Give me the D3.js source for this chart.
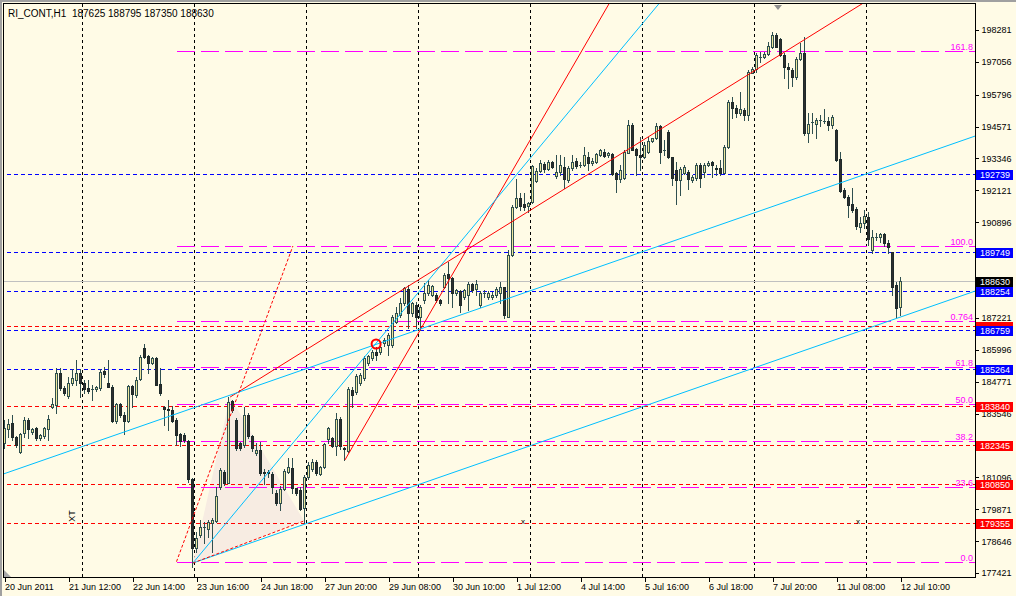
<!DOCTYPE html>
<html>
<head>
<meta charset="utf-8">
<script src="https://cdn.jsdelivr.net/npm/d3@7"></script>
<style>
body{margin:0;background:#fffbe6;}
svg{display:block;font-family:"Liberation Sans",Arial,sans-serif;}
</style>
</head>
<body>
<script>
// RI_CONT H1 candles (bar 0 = 20 Jun 2011)
var opens = [182400,182938,183168,182656,182080,182784,183296,182848,182976,182592,
182682,182938,183809,183873,185090,184540,184219,184706,184834,185090,
184731,184514,184488,184475,184514,185192,184731,184578,183271,183912,
183489,183271,184603,184258,184860,186051,185756,185500,185666,184680,
183809,183707,183681,183296,182746,182720,182489,181016,178365,178877,
179197,179108,179326,179428,180709,181311,180888,184027,183296,182400,
182336,183489,182682,182017,182145,181286,181300,181223,180480,180095,
180647,181312,181440,180672,180608,179903,181120,181402,181671,181223,
181504,182555,182593,182299,183336,182209,182117,184449,184385,184705,
184897,185474,185666,185922,185922,186243,186179,186179,187075,187331,
187779,188317,187395,187715,187267,187907,188163,188100,188100,187907,
188420,188907,188740,188164,188253,188036,188100,188522,188317,187715,
188164,188036,188036,188100,188164,188420,187267,189637,191493,191813,
191595,191518,191685,192479,192876,193133,192928,193209,192671,192838,
193030,192518,192966,193248,193094,193081,193414,193158,193222,193478,
193607,193465,193504,192774,192543,192582,193568,194631,193696,193478,
193414,193607,194029,194119,194593,193680,194349,193389,192902,192518,
192800,192838,192518,192582,193094,192838,193094,193222,192966,192966,
192800,193799,195528,195271,195079,195207,195015,196642,196770,197257,
197231,197359,197641,198090,197923,197321,196873,196745,196488,197154,
197385,194311,194759,194669,194823,194797,194797,194631,194439,193311,
192133,191877,191595,191390,190724,190877,191082,189827,190340,190340,
190429,190109,189763,188482,187625];

var highs = [183296,183322,183489,182700,182800,183400,183360,183000,183040,182780,
183040,183489,184130,185282,185282,184600,184962,185250,185602,185244,
184834,184834,184642,184620,185244,185320,185602,184642,183950,183950,
183617,184642,184642,184962,185795,186217,185795,185700,185730,185282,
183835,184065,183835,183361,182784,182784,182528,181055,179005,179454,
179390,179454,179518,180709,181440,181375,184193,184065,183360,182450,
183809,183550,182720,182400,182465,181402,181376,181312,180608,180762,
181400,181825,181825,180700,180736,181184,181700,181800,181750,181550,
182420,183042,182650,183554,183400,182260,184577,184577,185050,185100,
185750,185800,185986,186115,186170,186450,186627,187350,187651,187971,
188420,188484,187850,187843,187715,188548,188676,188500,188163,187950,
188932,189381,188804,188350,188292,188350,188612,188580,188676,188250,
188292,188250,188200,188400,188612,188420,189829,191557,192556,192006,
192006,191685,193094,192966,193286,193222,193286,193260,193478,193478,
193414,193050,193478,193350,193222,193799,193607,193350,193560,193720,
193696,193610,193543,192838,193094,193671,194824,194695,193735,194183,
193991,194183,194150,194695,194631,194055,194439,193414,193222,193030,
193094,192902,192710,193158,193158,193158,193248,193248,193094,193286,
193863,195592,195720,195400,195912,195271,196745,196873,197385,197449,
197449,197833,198218,198154,197961,197385,197001,196809,197257,197795,
198026,195079,195079,194887,195015,195233,194951,195015,194464,193606,
192197,191941,192197,191467,191108,191364,191300,190596,190468,190493,
190468,190212,189763,188610,188795];

var lows = [182208,182656,182528,182272,182020,182650,182592,182780,182528,182540,
182620,182528,183745,183553,184450,184250,184130,184640,184642,184193,
184322,184322,184065,184420,184450,184962,184578,183232,183200,183420,
182759,183232,183809,184193,184834,185666,185090,185450,184642,184258,
183105,182912,183232,182336,182297,182464,180926,177660,178237,178813,
178557,178813,178237,179390,180645,180820,180862,183617,182150,182150,
182272,182600,182100,181950,181184,180838,181120,180480,180031,179839,
180600,181248,180480,180400,179839,179327,181050,181350,181200,181184,
181450,182401,182250,181953,182200,181761,182079,183808,184300,184650,
184850,185400,185600,185602,185850,186150,185794,186100,187011,187267,
187700,186819,187300,186819,186755,187779,188100,188050,187850,187700,
188356,187779,187651,188100,187459,187950,187523,188200,188100,187650,
188036,187950,187950,188036,187779,187203,187241,189600,191450,191365,
191365,191301,191621,192454,192838,192838,192890,192966,192582,192710,
192197,192450,192902,192966,193030,193056,192902,193094,193180,193440,
193414,193420,192710,192070,192454,192543,193543,193671,192710,192902,
193350,193543,193990,194080,193158,193478,193350,192326,191595,191941,
192748,192159,192454,192518,192236,192620,193056,192646,192710,192710,
192780,193735,194887,194951,195015,194823,194823,196616,196680,197065,
197193,197321,197577,197616,197283,196424,196040,196130,196386,197129,
194247,193990,194311,194118,194592,194695,194439,194502,193260,192069,
191813,191108,191300,190621,190532,190660,190020,189699,190212,190148,
189981,189699,188098,187265,187350];

var closes = [182976,183130,182656,182336,182746,183296,182938,182950,182592,182720,
182976,183322,183912,185090,184514,184322,184706,184898,185090,184706,
184475,184424,184488,184552,185154,185051,184578,183271,183912,183489,
183271,184603,184296,184834,185705,185730,185500,185666,184642,184322,
183707,183668,183271,182720,182502,182528,181016,178365,178749,179172,
179197,179390,179454,180389,181375,180888,184001,183681,182208,182208,
183489,182682,182208,182145,181248,181260,181248,180736,180121,180634,
181338,181479,180672,180505,179865,181120,181568,181671,181274,181479,
182363,182977,182299,183336,182299,182171,184474,184257,184987,185025,
185666,185756,185922,185794,186115,186371,186563,187267,187395,187779,
188356,187395,187779,187267,187626,188163,188484,188446,187907,187779,
188868,188740,188164,188292,187715,188292,188510,188292,188522,188164,
188164,188164,188100,188330,188420,187331,189637,191493,191813,191518,
191493,191621,193056,192876,193158,192928,193222,193030,192838,193094,
192543,192992,193222,193056,193081,193478,193158,193261,193517,193671,
193440,193568,192748,192543,192902,193607,194631,193671,193478,193389,
193863,194029,194119,194593,193607,193660,193414,192582,192518,192928,
193030,192543,192646,193094,192582,193094,193184,193094,192960,192774,
193799,195528,195271,195105,195233,195015,196680,196770,197321,197250,
197359,197667,198090,197641,197321,196847,196770,196488,197154,197385,
194311,194669,194750,194823,194815,194790,194631,194951,193286,192107,
191851,191557,191364,190749,190877,191134,190237,190340,190335,190429,
190109,189956,188418,187585,188630];

var timeLabels = ["20 Jun 2011","21 Jun 12:00","22 Jun 14:00","23 Jun 16:00","24 Jun 18:00",
  "27 Jun 20:00","29 Jun 08:00","30 Jun 10:00","1 Jul 12:00","4 Jul 14:00",
  "5 Jul 16:00","6 Jul 18:00","7 Jul 20:00","11 Jul 08:00","12 Jul 10:00"];
var timeLabelBars = [0,16,32,48,64,80,96,112,128,144,160,176,192,208,224];
var gridBars = [19.25,47.25,75.25,103.25,131.25,159.25,187.25,215.25];

// the ticks hidden under the coloured price boxes are left out
var priceTicks = [198281,197056,195796,194571,193346,192121,190896,
  187221,185996,184771,183546,181096,179871,178646,177421];

var blueLevels = [192739,189749,188254,186759,185264];
var redLevels = [183840,182345,180850,179355];
var redHidden = 186900;   // red line whose label sits under the 186759 box
var bidPrice = 188630;

var fibLow = 177856, fibHigh = 189983;
var fibLevels = [0,23.6,38.2,50,61.8,76.4,100,161.8];
var fibLabels = ["0.0","23.6","38.2","50.0","61.8","0.764","100.0","161.8"];
var fibAnchors = [[43,177856],[72.1,189983]];

// trend lines as [bar, price] anchor pairs
var redRays = [[[56.4,184180],[213.9,199240]], [[85.1,181760],[115.5,189830]]];
var cyanRays = [[[47.1,177804],[231.4,187650]], [[47.1,177804],[112.1,189791]]];
var cyanLines = [[[0.4,181261],[208.9,192403]]];
var triangle = [[47.1,177804],[56.4,184180],[74.9,179420]];
var circleMark = [92.9,186218];
var crossMarks = [129.6,213.4];

var width = 1016, height = 596;
var plotRight = 975, plotTop = 4, plotBottom = 577;

var x = d3.scaleLinear().domain([0,224]).range([4.5,900.5]);
var y = d3.scaleLinear().domain([177421,198281]).range([573,30]);
var hy = function(v){ return Math.round(y(v)) + 0.5; };

var svg = d3.select("body").append("svg")
  .attr("width", width).attr("height", height);

svg.append("rect").attr("width", width).attr("height", height).attr("fill", "#fffbe6");

svg.append("clipPath").attr("id","clip")
  .append("rect").attr("x",4).attr("y",plotTop).attr("width",plotRight-4).attr("height",plotBottom-plotTop);

var plot = svg.append("g").attr("clip-path","url(#clip)");

// vertical grid
plot.append("g").attr("shape-rendering","crispEdges")
  .selectAll("line").data(gridBars).join("line")
  .attr("x1", d => Math.round(x(d)) + 0.5).attr("x2", d => Math.round(x(d)) + 0.5)
  .attr("y1", plotTop).attr("y2", plotBottom)
  .attr("stroke","#000").attr("stroke-dasharray","3,3");

// triangle shading
plot.append("path")
  .attr("d", "M" + triangle.map(p => [x(p[0]), y(p[1])].join(",")).join("L") + "Z")
  .attr("fill","#f7ece2");

// horizontal lines
var hl = plot.append("g").attr("shape-rendering","crispEdges");
hl.append("line").attr("x1",0).attr("x2",plotRight)
  .attr("y1",hy(bidPrice)).attr("y2",hy(bidPrice)).attr("stroke","#c0c0c0");
hl.selectAll("line.red").data(redLevels.concat([redHidden])).join("line").attr("class","red")
  .attr("x1",0).attr("x2",plotRight).attr("y1",hy).attr("y2",hy)
  .attr("stroke","#ff0000").attr("stroke-dasharray","4,3");
hl.selectAll("line.blue").data(blueLevels).join("line").attr("class","blue")
  .attr("x1",0).attr("x2",plotRight).attr("y1",hy).attr("y2",hy)
  .attr("stroke","#0000ff").attr("stroke-dasharray","4,3");

var fibPrice = function(l){ return fibLow + (fibHigh - fibLow) * l / 100; };
hl.selectAll("line.fib").data(fibLevels).join("line").attr("class","fib")
  .attr("x1", Math.round(x(fibAnchors[0][0]))).attr("x2",plotRight)
  .attr("y1", d => hy(fibPrice(d))).attr("y2", d => hy(fibPrice(d)))
  .attr("stroke","#ff00ff").attr("stroke-dasharray","18,6");
plot.selectAll("text.fib").data(fibLevels).join("text").attr("class","fib")
  .attr("x", 973).attr("y", d => hy(fibPrice(d)) - 2)
  .attr("text-anchor","end").attr("font-size","9px").attr("fill","#ff00ff")
  .text((d,i) => fibLabels[i]);

// candles
var bars = d3.range(opens.length).map(i => ({i:i, o:opens[i], h:highs[i], l:lows[i], c:closes[i]}));
var cg = plot.append("g").attr("shape-rendering","crispEdges");
cg.selectAll("line.wick").data(bars).join("line").attr("class","wick")
  .attr("x1", d => x(d.i)).attr("x2", d => x(d.i))
  .attr("y1", d => Math.round(y(d.h))).attr("y2", d => Math.round(y(d.l)) + 1)
  .attr("stroke","#2f4f4f");
var bodyH = d => Math.round(y(Math.min(d.o,d.c))) - Math.round(y(Math.max(d.o,d.c)));
cg.selectAll("rect.body").data(bars.filter(d => bodyH(d) >= 1)).join("rect").attr("class","body")
  .attr("x", d => x(d.i) - 1).attr("y", d => Math.round(y(Math.max(d.o,d.c))) + 0.5)
  .attr("width", 2).attr("height", bodyH)
  .attr("fill", d => d.c >= d.o ? "#eee79c" : "#2e2e2e")
  .attr("stroke", d => d.c >= d.o ? "#2f4f4f" : "#1e2a2a");
cg.selectAll("line.doji").data(bars.filter(d => bodyH(d) < 1)).join("line").attr("class","doji")
  .attr("x1", d => x(d.i) - 1.5).attr("x2", d => x(d.i) + 1.5)
  .attr("y1", d => hy(d.o)).attr("y2", d => hy(d.o))
  .attr("stroke","#2f4f4f");

// trend lines
function ray(a, b, both){
  var x1 = x(a[0]), y1 = y(a[1]), x2 = x(b[0]), y2 = y(b[1]);
  var k = (y2 - y1) / (x2 - x1);
  var xs = both ? -100 : x1, xe = 1200;
  return [[xs, y1 + k*(xs - x1)], [xe, y1 + k*(xe - x1)]];
}
var tl = plot.append("g").attr("fill","none");
var lineGen = d3.line();
redRays.forEach(r => tl.append("path").attr("d", lineGen(ray(r[0], r[1], false))).attr("stroke","#ff0000"));
cyanRays.forEach(r => tl.append("path").attr("d", lineGen(ray(r[0], r[1], false))).attr("stroke","#00bfff"));
cyanLines.forEach(r => tl.append("path").attr("d", lineGen(ray(r[0], r[1], true))).attr("stroke","#00bfff"));
tl.append("path")
  .attr("d", lineGen(fibAnchors.map(p => [x(p[0]), y(p[1])])))
  .attr("stroke","#ff0000").attr("stroke-dasharray","3,2");
tl.append("path")
  .attr("d", lineGen([triangle[0], triangle[2]].map(p => [x(p[0]), y(p[1])])))
  .attr("stroke","#ff0000").attr("stroke-dasharray","3,2");
tl.append("circle").attr("cx", x(circleMark[0])).attr("cy", y(circleMark[1])).attr("r",4.5)
  .attr("stroke","#ff0000").attr("stroke-width",2);

// small chart marks
plot.append("text").attr("transform","translate(75,516) rotate(-90)")
  .attr("text-anchor","middle").attr("font-size","9px").text("XT");
plot.selectAll("text.mk").data(crossMarks).join("text").attr("class","mk")
  .attr("x", d => x(d)).attr("y", 524).attr("text-anchor","middle")
  .attr("font-size","8px").text("x");
svg.append("path").attr("d","M774,5L782,5L778,10Z").attr("fill","#909090");
svg.append("path").attr("d","M4,570L4,577L11,577Z").attr("fill","#a8a8a8");

// frame
svg.append("rect").attr("x",0).attr("y",0).attr("width",width).attr("height",2).attr("fill","#a0a0a0");
svg.append("rect").attr("x",0).attr("y",0).attr("width",2).attr("height",height).attr("fill","#a0a0a0");
var fr = svg.append("g").attr("shape-rendering","crispEdges").attr("stroke","#000");
fr.append("line").attr("x1",3.5).attr("x2",3.5).attr("y1",3).attr("y2",plotBottom);
fr.append("line").attr("x1",3).attr("x2",plotRight+1).attr("y1",3.5).attr("y2",3.5);
fr.append("line").attr("x1",plotRight+0.5).attr("x2",plotRight+0.5).attr("y1",3).attr("y2",plotBottom+1);
fr.append("line").attr("x1",3).attr("x2",plotRight+1).attr("y1",plotBottom+0.5).attr("y2",plotBottom+0.5);

// right price axis
var ya = svg.append("g").attr("transform","translate(" + (plotRight + 0.5) + ",0)")
  .call(d3.axisRight(y).tickValues(priceTicks).tickSize(3).tickPadding(3).tickFormat(d3.format("d")));
ya.select(".domain").remove();
ya.selectAll("line").attr("stroke","#000").attr("shape-rendering","crispEdges");
ya.selectAll("text").attr("font-size","9px").attr("fill","#000").attr("font-family","Liberation Sans, Arial, sans-serif");

// bottom time axis
var xa = svg.append("g").attr("transform","translate(0," + (plotBottom + 0.5) + ")")
  .call(d3.axisBottom(x).tickValues(timeLabelBars).tickSize(4).tickPadding(2).tickFormat((d,i) => timeLabels[i]));
xa.select(".domain").remove();
xa.selectAll("line").attr("stroke","#000").attr("shape-rendering","crispEdges");
xa.selectAll("text").attr("text-anchor","start").attr("x",0)
  .attr("font-size","9px").attr("fill","#000").attr("font-family","Liberation Sans, Arial, sans-serif");

// price boxes on the axis
function priceBox(v, bg, withText){
  var cy = hy(v);
  svg.append("rect").attr("x",plotRight+1).attr("y",cy-5).attr("width",37).attr("height",10)
    .attr("fill",bg).attr("shape-rendering","crispEdges");
  if (withText) svg.append("text").attr("x",plotRight+5).attr("y",cy+3.5)
    .attr("font-size","9px").attr("fill","#fff").text(v);
}
priceBox(redHidden, "#ff0000", false);
redLevels.forEach(v => priceBox(v, "#ff0000", true));
blueLevels.forEach(v => priceBox(v, "#0000ff", true));
priceBox(bidPrice, "#000000", true);

// title
svg.append("text").attr("x",8).attr("y",17).attr("font-size","10px").attr("fill","#000")
  .attr("xml:space","preserve")
  .text("RI_CONT,H1  " + [opens[224], highs[224], lows[224], closes[224]].join(" "));
</script>
</body>
</html>
